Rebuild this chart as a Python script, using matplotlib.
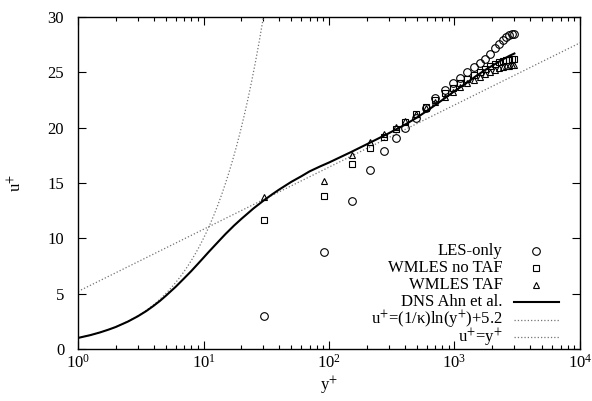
import matplotlib
matplotlib.use('Agg')
import matplotlib.pyplot as plt
from matplotlib.lines import Line2D
from matplotlib.ticker import LogLocator, NullFormatter
import numpy as np

plt.rcParams['font.family'] = ['Liberation Serif', 'DejaVu Serif']
plt.rcParams['mathtext.fontset'] = 'stix'

# wall-normal positions of the LES points
yplus_les = [30.6, 91.8, 153, 214, 276, 340, 405, 490, 590, 705, 835, 970, 1115,
             1265, 1425, 1590, 1765, 1935, 2100, 2265, 2425, 2585, 2740, 2880, 2990]

u_les_only = [3.0, 8.8, 13.4, 16.2, 17.9, 19.1, 20.0, 20.9, 21.8, 22.65, 23.4, 24.0, 24.5,
              25.0, 25.45, 25.8, 26.25, 26.7, 27.2, 27.6, 27.9, 28.15, 28.35, 28.45, 28.5]
u_wm_notaf = [11.7, 13.8, 16.7, 18.2, 19.2, 19.9, 20.5, 21.2, 21.9, 22.5, 23.1, 23.6, 24.0,
              24.4, 24.75, 25.05, 25.3, 25.55, 25.75, 25.9, 26.0, 26.1, 26.15, 26.2, 26.2]
u_wm_taf = [13.7, 15.2, 17.5, 18.7, 19.4, 20.1, 20.6, 21.2, 21.8, 22.3, 22.8, 23.25, 23.65,
            24.0, 24.3, 24.6, 24.85, 25.05, 25.2, 25.35, 25.45, 25.55, 25.6, 25.65, 25.7]

# DNS profile (Ahn et al.)
yplus_dns = [1, 1.25, 1.5, 1.75, 2, 2.5, 3, 3.5, 4, 4.5, 5, 6, 7, 8, 9, 10, 11, 12, 13.5,
             15, 17.5, 20, 22.5, 25, 30, 35, 40, 50, 60, 70, 85, 100, 150, 200, 300, 400,
             500, 600, 800, 1000, 1250, 1500, 1750, 2000, 2250, 2500, 2750, 3000]
u_dns = [1.0, 1.25, 1.5, 1.75, 1.99, 2.48, 2.96, 3.43, 3.9, 4.35, 4.8, 5.62, 6.38, 7.05,
         7.68, 8.25, 8.77, 9.23, 9.85, 10.4, 11.15, 11.75, 12.25, 12.7, 13.4, 13.95, 14.4,
         15.1, 15.6, 16.05, 16.5, 16.85, 17.8, 18.5, 19.5, 20.25, 20.9, 21.5, 22.5, 23.3,
         24.05, 24.7, 25.2, 25.6, 25.95, 26.25, 26.5, 26.7]

kappa = 0.41
B = 5.2

fig = plt.figure(figsize=(5.92, 4.01), dpi=100)
ax = fig.add_axes([0.1318, 0.1297, 0.8479, 0.8279])

yy = np.logspace(0, 4, 400)
ax.plot(yy, np.log(yy) / kappa + B, ':', color='0.45', lw=0.9)
ax.plot(yy, yy, ':', color='0.45', lw=0.9)
ax.plot(yplus_dns, u_dns, '-', color='black', lw=1.5)
ax.plot(yplus_les, u_les_only, 'o', mfc='none', mec='black', ms=5.5, mew=0.8)
ax.plot(yplus_les, u_wm_notaf, 's', mfc='none', mec='black', ms=4.5, mew=0.8)
ax.plot(yplus_les, u_wm_taf, '^', mfc='none', mec='black', ms=5, mew=0.8)

ax.set_xscale('log')
ax.set_xlim(1, 1e4)
ax.set_ylim(0, 30)
ax.set_yticks([0, 5, 10, 15, 20, 25, 30])
ax.xaxis.set_major_locator(LogLocator(base=10, numticks=10))
ax.xaxis.set_minor_locator(LogLocator(base=10, subs=np.arange(2, 10), numticks=10))
ax.xaxis.set_minor_formatter(NullFormatter())
ax.tick_params(which='both', direction='in', top=True, right=True, labelsize=12)
ax.tick_params(which='major', length=6, width=0.8)
ax.tick_params(which='minor', length=3, width=0.8)
ax.tick_params(axis='y', pad=10)
for s in ax.spines.values():
    s.set_linewidth(1.0)

ax.set_xlabel('y$^{+}$', fontsize=12, labelpad=2)
ax.set_ylabel('u$^{+}$', fontsize=12, labelpad=16)

# gnuplot style key: text right-aligned, sample on the right
labels = ['LES-only', 'WMLES no TAF', 'WMLES TAF', 'DNS Ahn et al.',
          'u$^{+}$=(1/κ)ln(y$^{+}$)+5.2', 'u$^{+}$=y$^{+}$']
key_y = [0.294, 0.243, 0.192, 0.141, 0.088, 0.035]
for lab, y in zip(labels, key_y):
    ax.text(0.846, y, lab, transform=ax.transAxes, ha='right', va='center', fontsize=12)
ax.add_line(Line2D([0.913], [key_y[0]], marker='o', mfc='none', mec='black', ms=5.5,
                   mew=0.8, transform=ax.transAxes))
ax.add_line(Line2D([0.913], [key_y[1]], marker='s', mfc='none', mec='black', ms=4.5,
                   mew=0.8, transform=ax.transAxes))
ax.add_line(Line2D([0.913], [key_y[2]], marker='^', mfc='none', mec='black', ms=5,
                   mew=0.8, transform=ax.transAxes))
ax.add_line(Line2D([0.869, 0.958], [key_y[3]] * 2, color='black', lw=1.5,
                   transform=ax.transAxes))
ax.add_line(Line2D([0.869, 0.958], [key_y[4]] * 2, ls=':', color='0.45', lw=0.9,
                   transform=ax.transAxes))
ax.add_line(Line2D([0.869, 0.958], [key_y[5]] * 2, ls=':', color='0.45', lw=0.9,
                   transform=ax.transAxes))

fig.savefig('out.png', dpi=100)
